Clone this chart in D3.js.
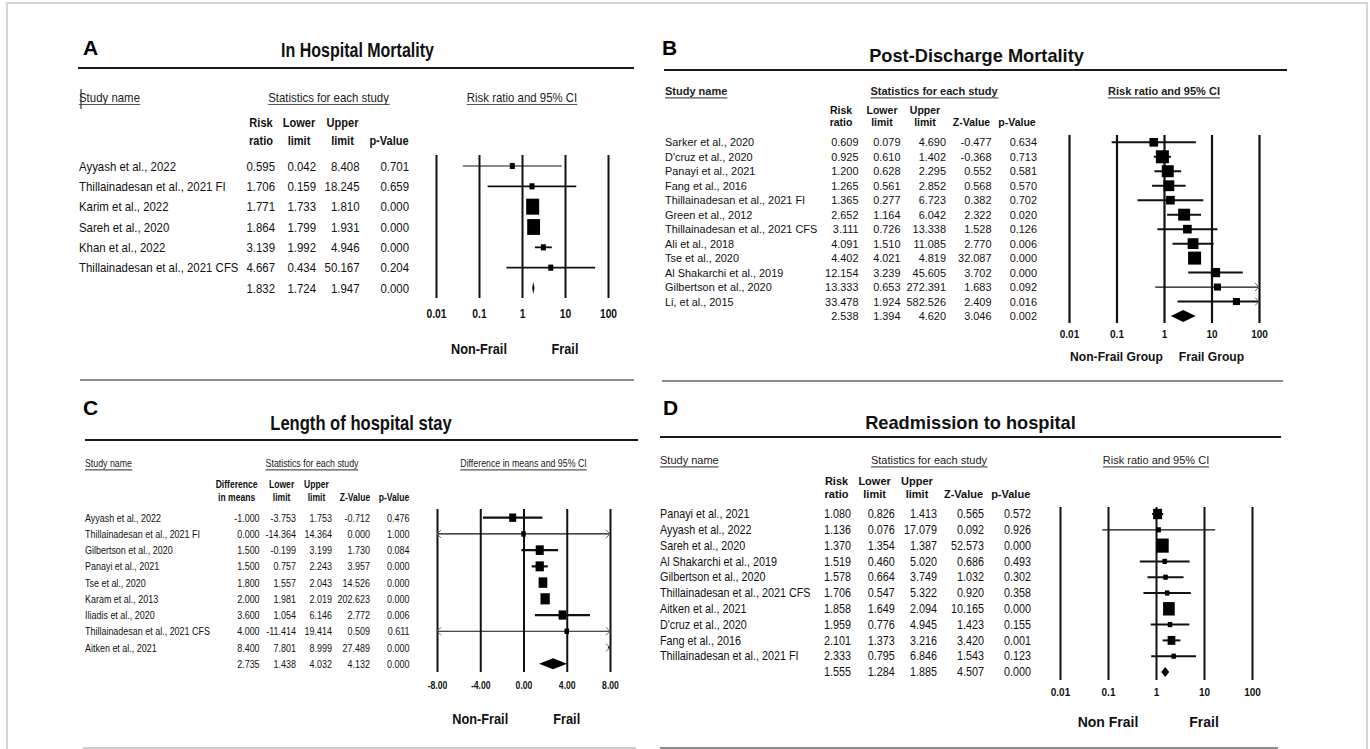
<!DOCTYPE html>
<html>
<head>
<meta charset="utf-8">
<script src="https://cdn.jsdelivr.net/npm/d3@7"></script>
<style>
  html, body { margin: 0; padding: 0; background: #fff; }
  svg { display: block; }
</style>
</head>
<body>
<svg id="fig" width="1370" height="749"></svg>
<script>
// ---------- A: In hospital mortality ----------
const namesA = ["Ayyash et al., 2022", "Thillainadesan et al., 2021 FI", "Karim et al., 2022",
  "Sareh et al., 2020", "Khan et al., 2022", "Thillainadesan et al., 2021 CFS"];
const rrA  = [0.595, 1.706, 1.771, 1.864, 3.139, 4.667];
const lowA = [0.042, 0.159, 1.733, 1.799, 1.992, 0.434];
const upA  = [8.408, 18.245, 1.810, 1.931, 4.946, 50.167];
const pA   = [0.701, 0.659, 0.000, 0.000, 0.000, 0.204];
const weightA = [0.2, 0.3, 48.6, 47.5, 3.0, 0.4];
const pooledA = [1.832, 1.724, 1.947, 0.000];

// ---------- B: Post-discharge mortality ----------
const namesB = ["Sarker et al., 2020", "D'cruz et al., 2020", "Panayi et al., 2021", "Fang et al., 2016",
  "Thillainadesan et al., 2021 FI", "Green et al., 2012", "Thillainadesan et al., 2021 CFS",
  "Ali et al., 2018", "Tse et al., 2020", "Al Shakarchi et al., 2019", "Gilbertson et al., 2020", "Li, et al., 2015"];
const rrB  = [0.609, 0.925, 1.200, 1.265, 1.365, 2.652, 3.111, 4.091, 4.402, 12.154, 13.333, 33.478];
const lowB = [0.079, 0.610, 0.628, 0.561, 0.277, 1.164, 0.726, 1.510, 4.021, 3.239, 0.653, 1.924];
const upB  = [4.690, 1.402, 2.295, 2.852, 6.723, 6.042, 13.338, 11.085, 4.819, 45.605, 272.391, 582.526];
const zB   = [-0.477, -0.368, 0.552, 0.568, 0.382, 2.322, 1.528, 2.770, 32.087, 3.702, 1.683, 2.409];
const pB   = [0.634, 0.713, 0.581, 0.570, 0.702, 0.020, 0.126, 0.006, 0.000, 0.000, 0.092, 0.016];
const weightB = [6.2, 14, 11.8, 9.7, 6.2, 11.8, 6.2, 9.7, 14, 7.0, 4.1, 4.1];
const pooledB = [2.538, 1.394, 4.620, 3.046, 0.002];

// ---------- C: Length of hospital stay ----------
const namesC = ["Ayyash et al., 2022", "Thillainadesan et al., 2021 FI", "Gilbertson et al., 2020",
  "Panayi et al., 2021", "Tse et al., 2020", "Karam et al., 2013", "Iliadis et al., 2020",
  "Thillainadesan et al., 2021 CFS", "Aitken et al., 2021"];
const diffC = [-1.000, 0.000, 1.500, 1.500, 1.800, 2.000, 3.600, 4.000, 8.400];
const lowC  = [-3.753, -14.364, -0.199, 0.757, 1.557, 1.981, 1.054, -11.414, 7.801];
const upC   = [1.753, 14.364, 3.199, 2.243, 2.043, 2.019, 6.146, 19.414, 8.999];
const zC    = [-0.712, 0.000, 1.730, 3.957, 14.526, 202.623, 2.772, 0.509, 27.489];
const pC    = [0.476, 1.000, 0.084, 0.000, 0.000, 0.000, 0.006, 0.611, 0.000];
const weightC = [7.9, 0.6, 10.4, 11.1, 12.2, 14, 9.6, 0.6, 13.1];
const pooledC = [2.735, 1.438, 4.032, 4.132, 0.000];

// ---------- D: Readmission to hospital ----------
const namesD = ["Panayi et al., 2021", "Ayyash et al., 2022", "Sareh et al., 2020", "Al Shakarchi et al., 2019",
  "Gilbertson et al., 2020", "Thillainadesan et al., 2021 CFS", "Aitken et al., 2021",
  "D'cruz et al., 2020", "Fang et al., 2016", "Thillainadesan et al., 2021 FI"];
const rrD  = [1.080, 1.136, 1.370, 1.519, 1.578, 1.706, 1.858, 1.959, 2.101, 2.333];
const lowD = [0.826, 0.076, 1.354, 0.460, 0.664, 0.547, 1.649, 0.776, 1.373, 0.795];
const upD  = [1.413, 17.079, 1.387, 5.020, 3.749, 5.322, 2.094, 4.945, 3.216, 6.846];
const zD   = [0.565, 0.092, 52.573, 0.686, 1.032, 0.920, 10.165, 1.423, 3.420, 1.543];
const pD   = [0.572, 0.926, 0.000, 0.493, 0.302, 0.358, 0.000, 0.155, 0.001, 0.123];
const weightD = [16, 0.5, 30, 2, 3, 2, 27, 3, 11.8, 2.5];
const pooledD = [1.555, 1.284, 1.885, 4.507, 0.000];

// ---------- shared labels ----------
const ratioTicks = [0.01, 0.1, 1, 10, 100];
const ratioTickLabels = ["0.01", "0.1", "1", "10", "100"];
const diffTicks = [-8, -4, 0, 4, 8];
const diffTickLabels = ["-8.00", "-4.00", "0.00", "4.00", "8.00"];
const headersRR = ["Study name", "Statistics for each study", "Risk ratio and 95% CI"];
const headersMD = ["Study name", "Statistics for each study", "Difference in means and 95% CI"];
const colHeadsA = [["Risk", "ratio"], ["Lower", "limit"], ["Upper", "limit"], ["", "p-Value"]];
const colHeadsRR = [["Risk", "ratio"], ["Lower", "limit"], ["Upper", "limit"], ["", "Z-Value"], ["", "p-Value"]];
const colHeadsMD = [["Difference", "in means"], ["Lower", "limit"], ["Upper", "limit"], ["", "Z-Value"], ["", "p-Value"]];

const FONT = "'Liberation Sans', Arial, Helvetica, sans-serif";
const svg = d3.select("#fig");

// outer frame
svg.append("rect").attr("x", 7).attr("y", 3).attr("width", 1360).attr("height", 770)
  .attr("fill", "none").attr("stroke", "#c9c9c9").attr("stroke-width", 1.5);

// text helper: centred vertically on cy, optionally condensed horizontally
function txt(g, x, cy, s, o) {
  const size = o.size, sx = o.sx || 1;
  const y = cy + size * 0.35;
  const t = g.append("text")
    .attr("transform", `translate(${x},${y}) scale(${sx},1)`)
    .attr("text-anchor", o.anchor || "start")
    .attr("font-family", FONT)
    .attr("font-size", size)
    .attr("font-weight", o.bold ? 700 : 400)
    .attr("fill", o.fill || "#111")
    .text(s);
  if (o.underline) {
    const b = t.node().getBBox();
    g.append("line")
      .attr("x1", x + b.x * sx).attr("x2", x + (b.x + b.width) * sx)
      .attr("y1", y + 3).attr("y2", y + 3)
      .attr("stroke", "#555").attr("stroke-width", 1.1);
  }
  return t;
}

// arrow mark for an interval running past the plotted range
function chevron(g, x, y, dir) {
  g.append("path")
    .attr("d", `M${x - 4 * dir},${y - 4}L${x},${y}L${x - 4 * dir},${y + 4}`)
    .attr("fill", "none").attr("stroke", "#666").attr("stroke-width", 1);
}

function forest(P) {
  const L = P.layout;
  const g = svg.append("g");
  const n = P.names.length;

  txt(g, L.letter[0], L.letter[1], P.letter, { size: 21, bold: true, fill: "#000" });
  txt(g, L.title[0], L.title[1], P.title, { size: L.titleSize, bold: true, anchor: "middle", sx: L.titleSx });
  g.append("line").attr("x1", L.rule[0]).attr("x2", L.rule[1]).attr("y1", L.rule[2]).attr("y2", L.rule[2])
    .attr("stroke", "#1a1a1a").attr("stroke-width", 2);

  const x = P.log ? d3.scaleLog().domain(P.domain).range(L.xRange)
                  : d3.scaleLinear().domain(P.domain).range(L.xRange);
  const ref = P.log ? 1 : 0;

  const hs = { size: L.headSize, bold: L.headBold, sx: L.headSx, underline: true, fill: "#222" };
  txt(g, L.nameX, L.headY, P.headers[0], hs);
  txt(g, L.statsX, L.headY, P.headers[1], { ...hs, anchor: "middle" });
  txt(g, x(ref), L.headY, P.headers[2], { ...hs, anchor: "middle" });

  const cs = { size: L.colSize, bold: true, sx: L.colSx, anchor: "middle" };
  P.colHeads.forEach((h, j) => {
    if (h[0]) txt(g, L.colX[j], L.colY[0], h[0], cs);
    txt(g, L.colX[j], L.colY[1], h[1], cs);
  });

  const y = d3.scalePoint().domain(d3.range(n + 1)).range(L.rows);
  const bs = { size: L.bodySize, sx: L.bodySx };
  P.names.forEach((s, i) => txt(g, L.nameX, y(i), s, bs));
  P.columns.forEach((col, j) => {
    col.forEach((v, i) => txt(g, L.valX[j], y(i), v.toFixed(3), { ...bs, anchor: "end" }));
    txt(g, L.valX[j], y(n), P.pooled[j].toFixed(3), { ...bs, anchor: "end" });
  });

  // grid lines and tick labels from the axis
  const axis = d3.axisBottom(x).tickValues(P.ticks)
    .tickFormat((d, i) => P.tickLabels[i])
    .tickSize(-(L.plotY[1] - L.plotY[0])).tickSizeOuter(0);
  const ag = g.append("g").attr("transform", `translate(0,${L.plotY[1]})`).call(axis);
  ag.select(".domain").remove();
  ag.selectAll(".tick line").attr("stroke", "#111").attr("stroke-width", L.gridW);
  ag.selectAll(".tick text")
    .attr("y", null).attr("dy", null)
    .attr("transform", `translate(0,${L.tickY - L.plotY[1] + L.tickSize * 0.35}) scale(${L.tickSx},1)`)
    .attr("font-family", FONT).attr("font-size", L.tickSize).attr("font-weight", 700).attr("fill", "#111");

  const [dmin, dmax] = P.domain;
  const side = d3.scaleSqrt().domain([0, L.wMax]).range([0, L.maxSide]);
  const mg = g.append("g");
  P.est.forEach((e, i) => {
    const lo = P.lo[i], up = P.up[i], cy = y(i);
    const a = Math.max(lo, dmin), b = Math.min(up, dmax);
    const thin = (x(b) - x(a)) > 95 || lo < dmin;
    if (a < b) {
      mg.append("line").attr("x1", x(a)).attr("x2", x(b)).attr("y1", cy).attr("y2", cy)
        .attr("stroke", "#111").attr("stroke-width", thin ? 1.2 : L.ciW);
    }
    if (lo < dmin) chevron(mg, x(dmin), cy, -1);
    if (up > dmax) chevron(mg, x(dmax), cy, 1);
    if (e >= dmin && e <= dmax) {
      const w = Math.max(L.minSide, side(P.weight[i]));
      const h = w * L.aspect;
      mg.append("rect").attr("x", x(e) - w / 2).attr("y", cy - h / 2)
        .attr("width", w).attr("height", h).attr("fill", "#000");
    }
  });

  // pooled estimate
  const py = y(n), hh = L.diamondH / 2;
  mg.append("path")
    .attr("d", `M${x(P.pooled[1])},${py}L${x(P.pooled[0])},${py - hh}L${x(P.pooled[2])},${py}L${x(P.pooled[0])},${py + hh}Z`)
    .attr("fill", "#000");

  const ss = { size: L.sideSize, bold: true, sx: L.sideSx, anchor: "middle" };
  txt(g, x(P.sideAt[0]), L.sideY, P.sideLabels[0], ss);
  txt(g, x(P.sideAt[1]), L.sideY, P.sideLabels[1], ss);

  g.append("line").attr("x1", L.bottom[0]).attr("x2", L.bottom[1]).attr("y1", L.bottom[2]).attr("y2", L.bottom[2])
    .attr("stroke", L.bottomColor).attr("stroke-width", 1.3);
  return g;
}

const gA = forest({
  letter: "A", title: "In Hospital Mortality", headers: headersRR, colHeads: colHeadsA,
  names: namesA, est: rrA, lo: lowA, up: upA, weight: weightA, pooled: pooledA,
  columns: [rrA, lowA, upA, pA], log: true, domain: [0.01, 100],
  ticks: ratioTicks, tickLabels: ratioTickLabels, sideAt: [0.1, 10], sideLabels: ["Non-Frail", "Frail"],
  layout: {
    letter: [83, 47.5], title: [357.5, 50], titleSize: 20, titleSx: 0.8, rule: [78, 634, 68],
    headY: 97, headSize: 13, headBold: false, headSx: 0.88, nameX: 79, statsX: 328.5,
    colY: [122.7, 140], colX: [261, 299, 342.5, 389], colSize: 13, colSx: 0.85,
    rows: [166, 288], bodySize: 13, bodySx: 0.88, valX: [275, 316, 359.5, 409],
    xRange: [436, 608], plotY: [155, 298], gridW: 2, tickY: 314, tickSize: 12, tickSx: 0.86,
    sideY: 349, sideSize: 15, sideSx: 0.85, wMax: 50, maxSide: 13.2, minSide: 5, aspect: 1.23,
    ciW: 1.8, diamondH: 12, bottom: [80, 634, 380], bottomColor: "#666"
  }
});
// small edit mark beside the first header
gA.append("line").attr("x1", 81).attr("x2", 81).attr("y1", 89).attr("y2", 109)
  .attr("stroke", "#333").attr("stroke-width", 1.2);

forest({
  letter: "B", title: "Post-Discharge Mortality", headers: headersRR, colHeads: colHeadsRR,
  names: namesB, est: rrB, lo: lowB, up: upB, weight: weightB, pooled: pooledB,
  columns: [rrB, lowB, upB, zB, pB], log: true, domain: [0.01, 100],
  ticks: ratioTicks, tickLabels: ratioTickLabels, sideAt: [0.1, 10], sideLabels: ["Non-Frail Group", "Frail Group"],
  layout: {
    letter: [662, 48], title: [976.5, 55], titleSize: 19, titleSx: 0.96, rule: [664, 1287, 70],
    headY: 91, headSize: 11, headBold: true, headSx: 1, nameX: 665, statsX: 934,
    colY: [110, 122.7], colX: [841, 882, 925, 971.5, 1017], colSize: 10.5, colSx: 1,
    rows: [142.3, 316], bodySize: 11.5, bodySx: 0.95, valX: [858.5, 900.5, 946, 991.5, 1037],
    xRange: [1069, 1259], plotY: [135, 323], gridW: 2.2, tickY: 334, tickSize: 10, tickSx: 1,
    sideY: 357, sideSize: 12.5, sideSx: 0.97, wMax: 14, maxSide: 13, minSide: 7, aspect: 1,
    ciW: 2, diamondH: 12, bottom: [662, 1283, 381], bottomColor: "#666"
  }
});

forest({
  letter: "C", title: "Length of hospital stay", headers: headersMD, colHeads: colHeadsMD,
  names: namesC, est: diffC, lo: lowC, up: upC, weight: weightC, pooled: pooledC,
  columns: [diffC, lowC, upC, zC, pC], log: false, domain: [-8, 8],
  ticks: diffTicks, tickLabels: diffTickLabels, sideAt: [-4, 4], sideLabels: ["Non-Frail", "Frail"],
  layout: {
    letter: [83, 408], title: [361, 423], titleSize: 20, titleSx: 0.83, rule: [85, 638, 440],
    headY: 463, headSize: 11, headBold: false, headSx: 0.8, nameX: 85, statsX: 312,
    colY: [484, 497], colX: [236.6, 281.6, 316.5, 355, 394], colSize: 11, colSx: 0.78,
    rows: [517.7, 663.7], bodySize: 11.5, bodySx: 0.78, valX: [259.6, 296, 332, 370, 409.5],
    xRange: [437, 610], plotY: [509, 672], gridW: 2, tickY: 685, tickSize: 11.5, tickSx: 0.75,
    sideY: 719, sideSize: 15, sideSx: 0.85, wMax: 14, maxSide: 9.3, minSide: 4.5, aspect: 1.2,
    ciW: 2.2, diamondH: 11, bottom: [83, 636, 748], bottomColor: "#bbb"
  }
});

forest({
  letter: "D", title: "Readmission to hospital", headers: headersRR, colHeads: colHeadsRR,
  names: namesD, est: rrD, lo: lowD, up: upD, weight: weightD, pooled: pooledD,
  columns: [rrD, lowD, upD, zD, pD], log: true, domain: [0.01, 100],
  ticks: ratioTicks, tickLabels: ratioTickLabels, sideAt: [0.1, 10], sideLabels: ["Non Frail", "Frail"],
  layout: {
    letter: [663, 408], title: [970.5, 422], titleSize: 19, titleSx: 0.96, rule: [660, 1281, 437],
    headY: 460, headSize: 11, headBold: false, headSx: 1, nameX: 660, statsX: 929,
    colY: [481, 494], colX: [836.5, 874.6, 917, 963.5, 1010.7], colSize: 11, colSx: 1,
    rows: [514, 672], bodySize: 12, bodySx: 0.9, valX: [851, 894.7, 937, 984, 1031],
    xRange: [1060, 1252], plotY: [507, 680], gridW: 2, tickY: 692, tickSize: 10, tickSx: 1,
    sideY: 722, sideSize: 14, sideSx: 1, wMax: 30, maxSide: 12.3, minSide: 4.5, aspect: 1.15,
    ciW: 2, diamondH: 10, bottom: [660, 1278, 748], bottomColor: "#666"
  }
});
</script>
</body>
</html>
